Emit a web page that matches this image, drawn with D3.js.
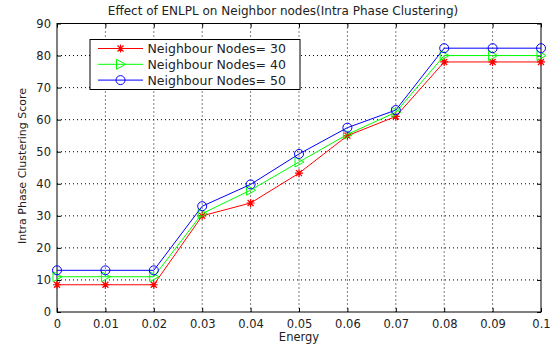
<!DOCTYPE html>
<html><head><meta charset="utf-8">
<script src="https://cdn.jsdelivr.net/npm/d3@7"></script>
<style>body{margin:0;background:#fff}svg{display:block}text{font-family:"DejaVu Sans",sans-serif;fill:#222}</style>
</head><body><svg id="c" width="552" height="347"></svg>
<script>
const energy = [0,0.01,0.02,0.03,0.04,0.05,0.06,0.07,0.08,0.09,0.1];
const nodes30 = [8.5,8.5,8.5,30,34,43.3,55,61,78,78,78];
const nodes40 = [11,11,11,30.7,38,46.8,55.4,62.3,80,80,80];
const nodes50 = [13,13,13,33,39.8,49.3,57.5,63,82.3,82.3,82.3];
const xTicks = [0,0.01,0.02,0.03,0.04,0.05,0.06,0.07,0.08,0.09,0.1];
const xTickLabels = ["0","0.01","0.02","0.03","0.04","0.05","0.06","0.07","0.08","0.09","0.1"];
const yTicks = [0,10,20,30,40,50,60,70,80,90];
const seriesNames = ["Neighbour Nodes= 30","Neighbour Nodes= 40","Neighbour Nodes= 50"];
const seriesColors = ["#ff0000","#00ff00","#0000ff"];
const seriesMarkers = ["star","triangle","circle"];

const svg = d3.select("#c");
const L=57, R=541, T=23.5, B=312;
const x = d3.scaleLinear().domain([0,0.1]).range([L,R]);
const y = d3.scaleLinear().domain([0,90]).range([B,T]);

// grid
const g = svg.append("g");
g.selectAll(".gx").data(xTicks.slice(1,-1)).enter().append("line")
  .attr("x1",d=>x(d)).attr("x2",d=>x(d)).attr("y1",T).attr("y2",B)
  .attr("stroke","#000").attr("stroke-width",1).attr("stroke-dasharray","1,3");
g.selectAll(".gy").data(yTicks.slice(1,-1)).enter().append("line")
  .attr("y1",d=>y(d)).attr("y2",d=>y(d)).attr("x1",L).attr("x2",R)
  .attr("stroke","#000").attr("stroke-width",1).attr("stroke-dasharray","1,3");

// axes
const xa = svg.append("g").attr("transform",`translate(0,${B})`)
  .call(d3.axisBottom(x).tickValues(xTicks).tickFormat((d,i)=>xTickLabels[i]).tickSizeInner(-4).tickSizeOuter(0).tickPadding(8));
const ya = svg.append("g").attr("transform",`translate(${L},0)`)
  .call(d3.axisLeft(y).tickValues(yTicks).tickSizeInner(-4).tickSizeOuter(0).tickPadding(6));
svg.append("g").attr("transform",`translate(0,${T})`)
  .call(d3.axisTop(x).tickValues(xTicks).tickFormat("").tickSizeInner(-4).tickSizeOuter(0));
svg.append("g").attr("transform",`translate(${R},0)`)
  .call(d3.axisRight(y).tickValues(yTicks).tickFormat("").tickSizeInner(-4).tickSizeOuter(0));
svg.selectAll(".domain").remove();
svg.selectAll(".tick line").attr("stroke","#000");
[xa,ya].forEach(a=>a.selectAll("text").attr("font-size",11.5).attr("fill","#222").attr("font-family","DejaVu Sans, sans-serif"));
svg.append("rect").attr("x",L).attr("y",T).attr("width",R-L).attr("height",B-T)
  .attr("fill","none").attr("stroke","#000").attr("stroke-width",1);

function drawMarker(sel, type, cx, cy, color){
  if(type==="circle"){
    sel.append("circle").attr("cx",cx).attr("cy",cy).attr("r",4.5).attr("fill","none").attr("stroke",color).attr("stroke-width",1);
  } else if(type==="triangle"){
    sel.append("path").attr("d",`M${cx-4},${cy-5}L${cx+5},${cy}L${cx-4},${cy+5}Z`).attr("fill","none").attr("stroke",color).attr("stroke-width",1);
  } else {
    const r=4;
    const p=`M${cx-r},${cy}L${cx+r},${cy}M${cx},${cy-r}L${cx},${cy+r}M${cx-3},${cy-3}L${cx+3},${cy+3}M${cx-3},${cy+3}L${cx+3},${cy-3}`;
    sel.append("path").attr("d",p).attr("stroke",color).attr("stroke-width",1.2);
  }
}

const allSeries=[nodes30,nodes40,nodes50];
const line = d3.line().x((d,i)=>x(energy[i])).y(d=>y(d));
allSeries.forEach((s,k)=>{
  svg.append("path").datum(s).attr("d",line).attr("fill","none").attr("stroke",seriesColors[k]).attr("stroke-width",1);
  const mg=svg.append("g");
  s.forEach((v,i)=>drawMarker(mg,seriesMarkers[k],x(energy[i]),y(v),seriesColors[k]));
});

// legend
const lg = svg.append("g");
lg.append("rect").attr("x",90).attr("y",39.5).attr("width",210).attr("height",50).attr("fill","#fff").attr("stroke","#000").attr("stroke-width",1);
seriesNames.forEach((n,k)=>{
  const yy=48.5+k*15.8;
  lg.append("line").attr("x1",98).attr("x2",143).attr("y1",yy).attr("y2",yy).attr("stroke",seriesColors[k]).attr("stroke-width",1);
  drawMarker(lg,seriesMarkers[k],120.5,yy,seriesColors[k]);
  lg.append("text").attr("x",147.5).attr("y",yy+4.5).attr("font-size",12.5).text(n);
});

// title & labels
svg.append("text").attr("x",283).attr("y",15).attr("text-anchor","middle").attr("font-size",12).text("Effect of ENLPL on Neighbor nodes(Intra Phase Clustering)");
svg.append("text").attr("x",299).attr("y",341).attr("text-anchor","middle").attr("font-size",11.5).text("Energy");
svg.append("text").attr("transform","translate(26,166) rotate(-90)").attr("text-anchor","middle").attr("font-size",11).text("Intra Phase Clustering Score");
</script></body></html>
